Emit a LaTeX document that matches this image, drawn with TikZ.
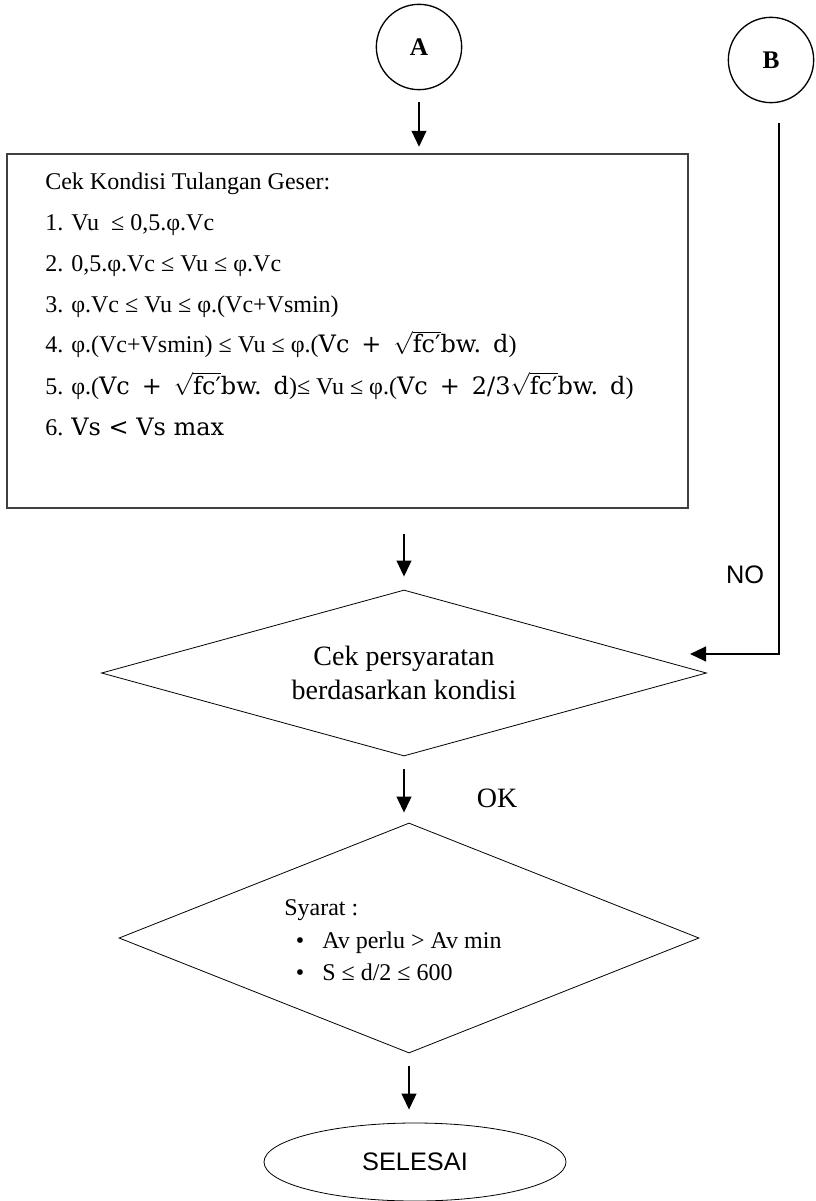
\documentclass[tikz,border=0pt]{standalone}
\usepackage{fontspec}
\setmainfont{Liberation Serif}
\newfontfamily\arialfont{Liberation Sans}
\newfontfamily\eqfont{DejaVu Serif}
\usetikzlibrary{shapes.geometric, arrows.meta}
\tikzset{flowarrow/.style={line width=1.5pt, -{Triangle[length=12pt, width=11pt]}}}
\tikzset{connector/.style={draw, circle, line width=1pt, minimum size=64pt, inner sep=0pt, font=\fontsize{19}{22}\selectfont\bfseries}}
\tikzset{decision/.style={draw, diamond, line width=0.6pt, inner sep=0pt, align=center}}
\tikzset{condline/.style={anchor=base west, inner sep=0pt}}
\tikzset{sanslabel/.style={font=\arialfont\fontsize{19}{22}\selectfont}}
\tikzset{bigtext/.style={font=\fontsize{21}{25}\selectfont}}
% potongan rumus
\newcommand{\eqpart}[1]{{\eqfont\fontsize{18}{22}\selectfont #1}}
\newcommand{\rootfc}{\(\sqrt{\hbox{\eqpart{fc′}}}\)}
\newcommand{\vcroot}[1]{\eqpart{Vc\enspace+\enspace#1\rootfc bw.\enspace d}}

\begin{document}
\begin{tikzpicture}[x=0.75pt, y=-0.75pt, font=\fontsize{18}{22}\selectfont]
    \useasboundingbox (0,0) rectangle (816,1201);
    \node[connector] (A) at (419,47) {A};
    \node[connector] (B) at (771,60) {B};
    % kotak kondisi tulangan geser
    \node[draw=black!75, line width=0.8pt, minimum width=510.75pt, minimum height=265.5pt, inner sep=0pt] (box) at (347.5,331) {};
    \node[condline] (cond0) at (45,190) {Cek Kondisi Tulangan Geser:};
    \node[condline] (cond1) at (45,231) {1. Vu \ ≤ 0,5.φ.Vc};
    \node[condline] (cond2) at (45,272) {2. 0,5.φ.Vc ≤ Vu ≤ φ.Vc};
    \node[condline] (cond3) at (45,313) {3. φ.Vc ≤ Vu ≤ φ.(Vc+Vsmin)};
    \node[condline] (cond4) at (45,353) {4. φ.(Vc+Vsmin) ≤ Vu ≤ φ.(\vcroot{})};
    \node[condline] (cond5) at (45,394) {5. φ.(\vcroot{})≤ Vu ≤ φ.(\vcroot{2/3})};
    \node[condline] (cond6) at (45,435) {6. \eqpart{Vs < Vs max}};
    % cek persyaratan
    \node[decision, bigtext, aspect=3.6, minimum width=453.75pt, minimum height=124.5pt] (check) at (404,673) {Cek persyaratan\\berdasarkan kondisi};
    \node[sanslabel] (no) at (745,575) {NO};
    \node[bigtext] (ok) at (497,798) {OK};
    % syarat
    \node[decision, aspect=2.5, minimum width=435pt, minimum height=172.5pt] (terms) at (409,938) {};
    \node[condline] (terms0) at (284,915) {Syarat :};
    \node[anchor=base, inner sep=0pt] (dot1) at (300,948) {\textbullet};
    \node[condline] (terms1) at (322,948) {Av perlu > Av min};
    \node[anchor=base, inner sep=0pt] (dot2) at (300,980) {\textbullet};
    \node[condline] (terms2) at (322,980) {S ≤ d/2 ≤ 600};
    \node[draw, ellipse, line width=0.6pt, minimum width=226.5pt, minimum height=58.5pt, sanslabel] (end) at (415,1162) {SELESAI};
    % panah
    \draw[flowarrow, shorten <=9pt, shorten >=5pt] (A.south) -- (A.south |- box.north);
    \draw[flowarrow, shorten <=18.75pt, shorten >=9.75pt] (check.north |- box.south) -- (check.north);
    \draw[flowarrow, shorten <=9.75pt, shorten >=7.5pt] (check.south) -- (check.south |- terms.north);
    \draw[flowarrow, shorten <=9.75pt, shorten >=9.75pt] (terms.south) -- (terms.south |- end.north);
    \coordinate (bbend) at (779,654);
    \coordinate (bin) at (690,654);
    \draw[flowarrow, line width=1.7pt, shorten <=15pt] (B.south -| bbend) -- (bbend) -- (bin);
\end{tikzpicture}
\end{document}
